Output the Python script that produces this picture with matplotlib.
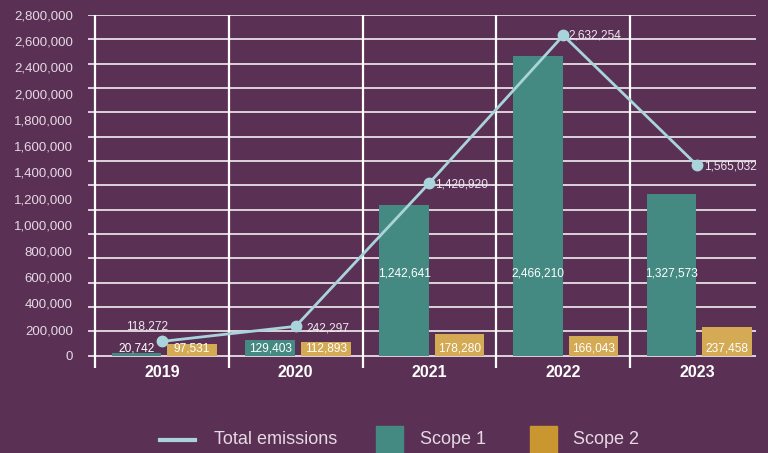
import matplotlib.pyplot as plt
from matplotlib.lines import Line2D
from matplotlib.patches import Rectangle
import numpy as np

years = ['2019', '2020', '2021', '2022', '2023']
scope1 = [20742, 129403, 1242641, 2466210, 1327573]
scope2 = [97531, 112893, 178280, 166043, 237458]
total = [118272, 242297, 1420920, 2632254, 1565032]
grid_values = list(range(0, 2800001, 200000))
# the original axis skips 2,200,000 and spreads its labels evenly
y_labels = ['0', '200,000', '400,000', '600,000', '800,000', '1,000,000',
            '1,200,000', '1,400,000', '1,600,000', '1,800,000', '2,000,000',
            '2,400,000', '2,600,000', '2,800,000']

BG = '#5a3155'
TEAL = '#448a82'
GOLD = '#d4aa55'
GOLD_LEG = '#c9962f'
LINE = '#a9d4dc'
TXT = '#e6d9e4'

plt.rcParams['font.family'] = ['Liberation Sans', 'DejaVu Sans']

fig = plt.figure(figsize=(7.68, 4.53), dpi=100, facecolor=BG)
W, H = 768, 453
ax = fig.add_axes([88 / W, (H - 368) / H, (756 - 88) / W, (368 - 15) / H])
ax.set_facecolor(BG)
for s in ax.spines.values():
    s.set_visible(False)

x = np.arange(len(years))
ax.set_xlim(-0.552, 4.44)
ax.set_ylim(-100000, 2800000)

# grid
for g in grid_values:
    ax.axhline(g, color='white', lw=1.1, zorder=1)
ax.vlines(x - 0.5, -100000, 2800000, color='white', lw=1.6, zorder=1)

w = 0.37
ax.bar(x - 0.19, scope1, width=w, color=TEAL, zorder=2)
ax.bar(x + 0.225, scope2, width=w, color=GOLD, zorder=2)

for i in range(len(years)):
    y1 = 680000 if scope1[i] > 500000 else 58000
    ax.text(x[i] - 0.19, y1, f'{scope1[i]:,}', ha='center', va='center', zorder=4,
            fontsize=8.6, color='white')
    ax.text(x[i] + 0.225, 58000, f'{scope2[i]:,}', ha='center', va='center', zorder=4,
            fontsize=8.6, color='white')

ax.plot(x, total, color=LINE, lw=2, marker='o', ms=7.5, zorder=3)
offsets = [(-15, 15, 'center'), (11, -2, 'left'), (6, -2, 'left'), (5, 0, 'left'), (7, -1, 'left')]
for i, (dx, dy, ha) in enumerate(offsets):
    ax.annotate(f'{total[i]:,}', (x[i], total[i]), xytext=(dx, dy), textcoords='offset pixels',
                ha=ha, va='center', fontsize=8.6, color='#efe6ee', zorder=4)

ax.set_yticks(np.linspace(0, 2800000, len(y_labels)))
ax.set_yticklabels(y_labels, fontsize=9.5, color=TXT)
ax.set_xticks(x)
ax.set_xticklabels(years, fontsize=11.5, fontweight='bold', color='white')
ax.tick_params(axis='y', length=0, pad=11)
ax.tick_params(axis='x', length=0, pad=-2)

# legend drawn by hand along the bottom
tf = fig.transFigure
fig.add_artist(Line2D([160 / W, 195 / W], [(H - 440) / H] * 2, color=LINE, lw=3, transform=tf))
fig.text(214 / W, (H - 440) / H, 'Total emissions', fontsize=13,
         color=TXT, va='center', ha='left')
fig.add_artist(Rectangle((376 / W, 0), 27 / W, 27 / H, color=TEAL, transform=tf))
fig.text(420 / W, (H - 439) / H, 'Scope 1', fontsize=13,
         color=TXT, va='center', ha='left')
fig.add_artist(Rectangle((530 / W, 0), 27 / W, 27 / H, color=GOLD_LEG, transform=tf))
fig.text(573 / W, (H - 439) / H, 'Scope 2', fontsize=13,
         color=TXT, va='center', ha='left')

fig.savefig('out.png', dpi=100, facecolor=BG)
